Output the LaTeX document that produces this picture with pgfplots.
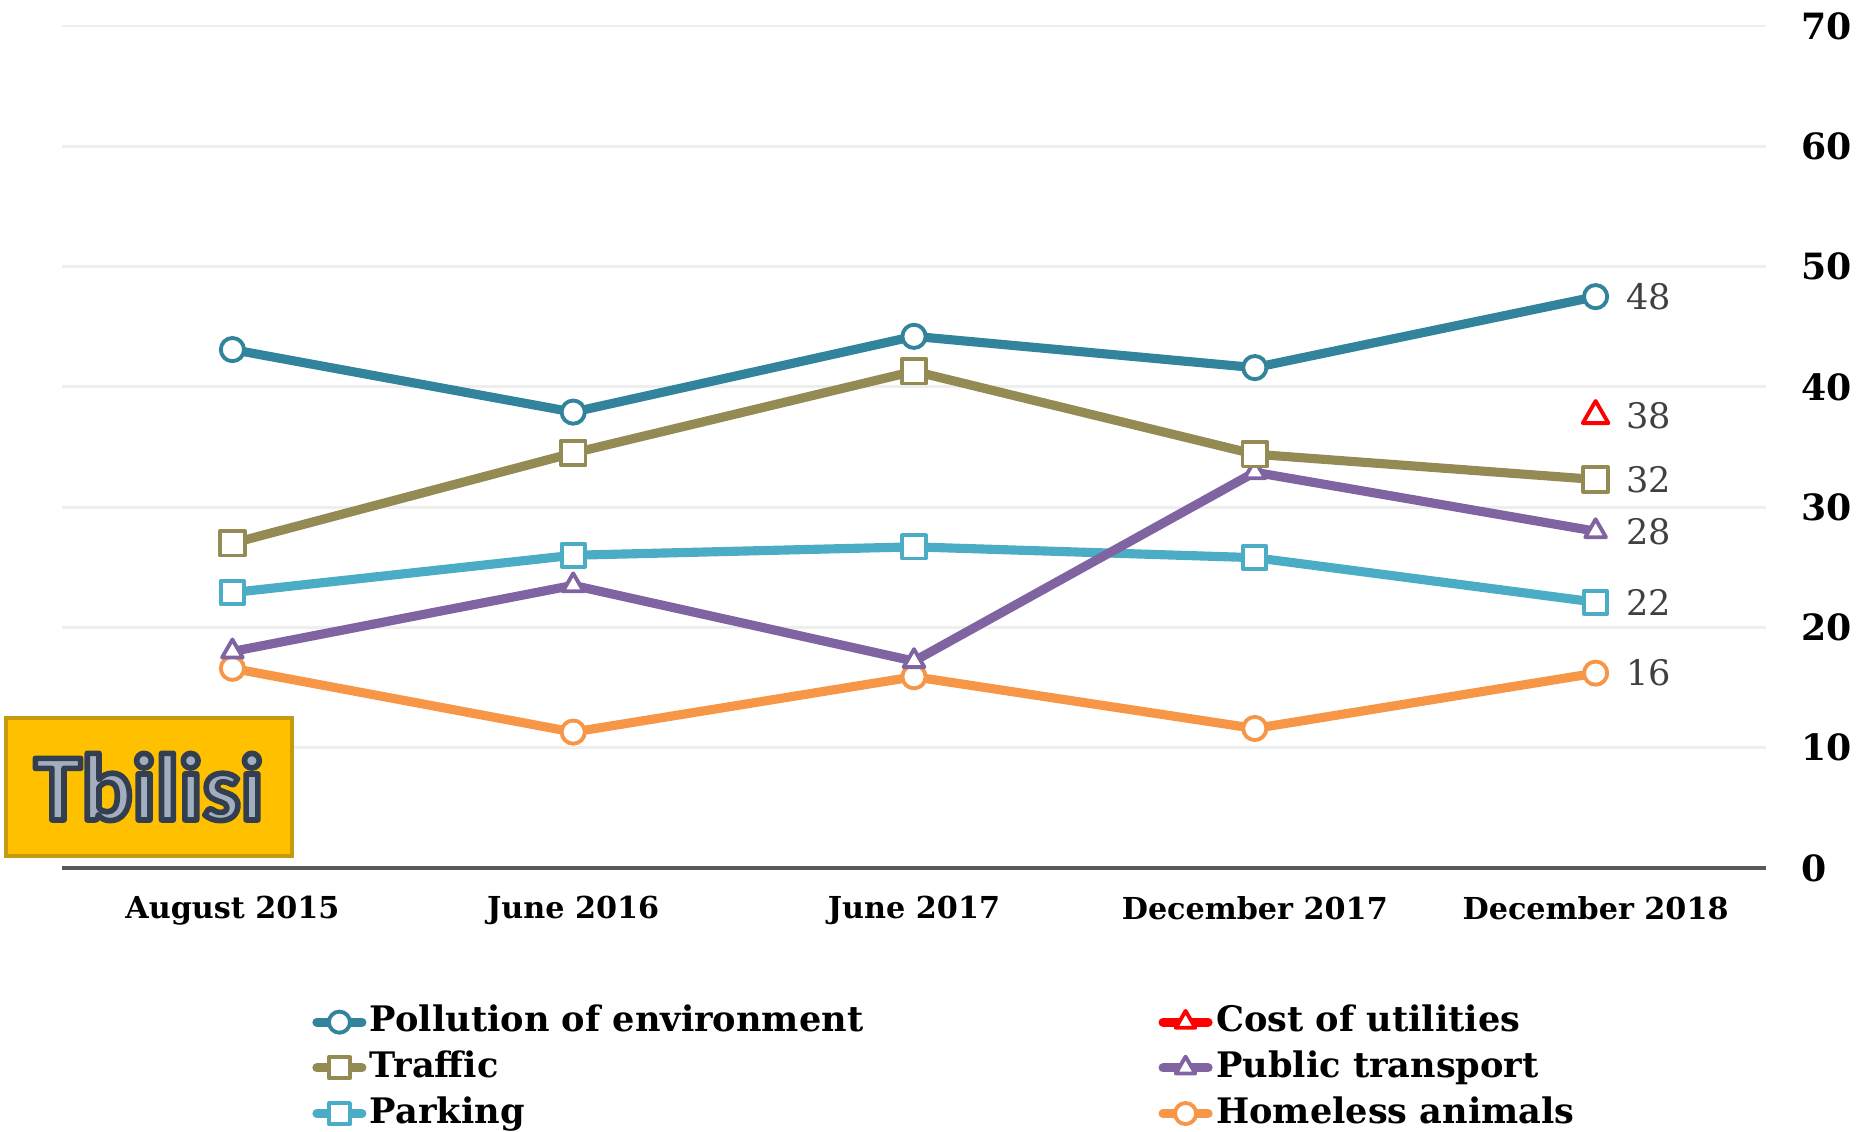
\documentclass[border=0pt]{standalone}
\usepackage{fontspec}
\setmainfont{DejaVu Serif}
\newfontfamily\tbfont{Carlito}
\usepackage{pgfplots}
\pgfplotsset{compat=1.18}

\definecolor{cPoll}{HTML}{31849B}
\definecolor{cTraf}{HTML}{948A54}
\definecolor{cPark}{HTML}{4BACC6}
\definecolor{cPub}{HTML}{8064A2}
\definecolor{cHome}{HTML}{F79646}
\definecolor{cCost}{HTML}{FF0000}
\definecolor{lbl}{HTML}{404040}
\definecolor{gridc}{HTML}{EEEEEE}
\definecolor{boxfill}{HTML}{FFC000}
\definecolor{boxedge}{HTML}{C49A10}
\definecolor{tblight}{HTML}{A2AEBD}

\pgfplotsset{
  ser/.style={line width=2.6pt, line cap=round, line join=round,
    mark options={solid, fill=white, line width=1.1pt}},
  legend image code/.code={
    \draw[mark repeat=2, mark phase=2, #1]
      plot coordinates {(0cm,0cm) (0.225cm,0cm) (0.45cm,0cm)};},
}

\begin{document}
\begin{tikzpicture}
\begin{axis}[
    at={(6.2mm,26.3mm)}, anchor=south west,
    width=170.4mm, height=84.2mm, scale only axis,
    xmin=-0.5, xmax=4.5, ymin=0, ymax=70,
    xtick={0,1,2,3,4},
    xticklabels={August 2015, June 2016, June 2017, December 2017, December 2018},
    ytick={0,10,...,70},
    axis x line*=bottom, axis y line*=right,
    x axis line style={draw=black!65, line width=1pt},
    y axis line style={draw=none},
    major tick length=0pt,
    ymajorgrids, grid style={gridc, line width=0.8pt},
    /pgf/number format/assume math mode=true,
    x tick label style={font=\fontsize{8.6}{10}\selectfont\bfseries, yshift=-1.6mm},
    y tick label style={font=\fontsize{10.3}{12}\selectfont\bfseries, anchor=west, xshift=2.3mm},
    legend style={at={(0.1465,-0.157)}, anchor=north west, draw=none, fill=none,
      inner sep=0pt, row sep=0.9pt, column sep=0pt,
      font=\fontsize{10}{12}\selectfont\bfseries,
      nodes={inner sep=1pt, text height=7.8pt, text depth=2.3pt}},
    legend columns=2,
    legend cell align=left,
]
% Homeless animals
\addplot[ser, cHome, mark=*, mark size=3.3pt, forget plot] coordinates {
  (0,16.6) (1,11.3) (2,15.9) (3,11.6) (4,16.2)};
% Parking
\addplot[ser, cPark, mark=square*, mark size=3.3pt, forget plot] coordinates {
  (0,22.9) (1,26.0) (2,26.7) (3,25.8) (4,22.1)};
% Public transport
\addplot[ser, cPub, mark=triangle*, mark size=3.4pt, forget plot] coordinates {
  (0,18.0) (1,23.5) (2,17.2) (3,32.9) (4,28.0)};
% Traffic
\addplot[ser, cTraf, mark=square*, mark size=3.5pt, forget plot] coordinates {
  (0,27.0) (1,34.5) (2,41.3) (3,34.4) (4,32.3)};
% Pollution of environment
\addplot[ser, cPoll, mark=*, mark size=3.3pt, forget plot] coordinates {
  (0,43.1) (1,37.9) (2,44.2) (3,41.6) (4,47.5)};
% Cost of utilities (last survey only)
\addplot[ser, cCost, mark=triangle*, mark size=4.2pt, forget plot] coordinates {
  (4,37.6)};

\addlegendimage{ser, cPoll, mark=*, mark size=3pt}
\addlegendentry{\makebox[78.5mm][l]{Pollution of environment}}
\addlegendimage{ser, cCost, mark=triangle*, mark size=3.2pt}
\addlegendentry{Cost of utilities}
\addlegendimage{ser, cTraf, mark=square*, mark size=3pt}
\addlegendentry{\makebox[78.5mm][l]{Traffic}}
\addlegendimage{ser, cPub, mark=triangle*, mark size=3.2pt}
\addlegendentry{Public transport}
\addlegendimage{ser, cPark, mark=square*, mark size=3pt}
\addlegendentry{\makebox[78.5mm][l]{Parking}}
\addlegendimage{ser, cHome, mark=*, mark size=3pt}
\addlegendentry{Homeless animals}

\begin{scope}[every node/.style={anchor=west, xshift=3mm, inner sep=0pt,
    text=lbl, font=\fontsize{10}{12}\selectfont}]
\node at (axis cs:4,47.5) {48};
\node at (axis cs:4,37.6) {38};
\node at (axis cs:4,32.3) {32};
\node at (axis cs:4,28.0) {28};
\node at (axis cs:4,22.1) {22};
\node at (axis cs:4,16.2) {16};
\end{scope}
\end{axis}

% city badge: light letters with a dark stroked outline (PDF text render mode 2)
\draw[boxedge, line width=0.4mm, fill=boxfill] (0.6mm,27.5mm) rectangle (29.2mm,41.3mm);
\node[text=tblight, font=\tbfont\bfseries\fontsize{27}{30}\selectfont, inner sep=0pt]
  at (14.9mm,34.4mm)
  {\special{pdf:literal direct 0.2 0.247 0.314 RG 1.6 w 1 j 2 Tr}Tbilisi\special{pdf:literal direct 0 Tr 0 0 0 RG}};

\pgfresetboundingbox
\path[use as bounding box] (0,0) rectangle (186.2mm,113.1mm);
\end{tikzpicture}
\end{document}
